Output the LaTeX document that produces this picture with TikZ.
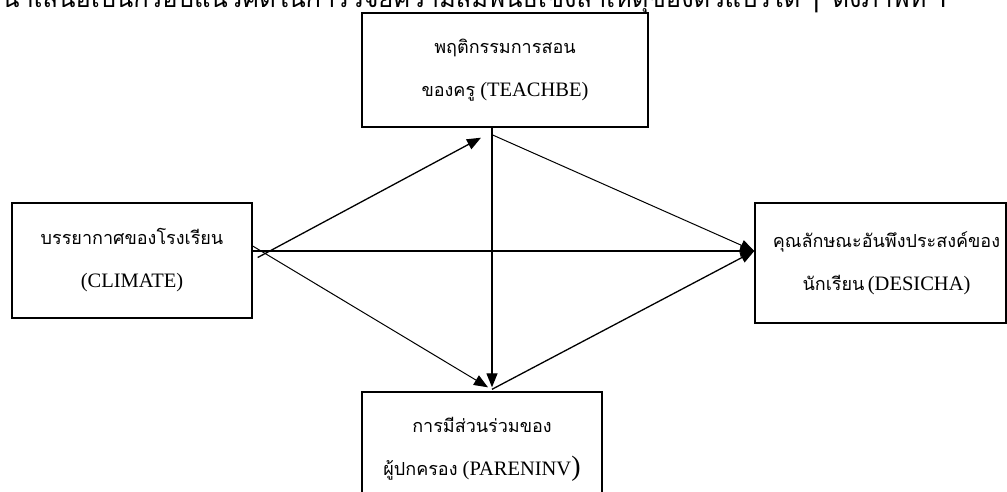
\documentclass[tikz,border=0pt]{standalone}
\usepackage{fontspec}
\setmainfont{Liberation Serif}
\newfontfamily\thaifont[Script=Thai]{Loma}
\newcommand\thtext[1]{{\thaifont\fontsize{18}{43}\selectfont #1}}
\usetikzlibrary{arrows.meta}

\begin{document}
\begin{tikzpicture}[x=1pt, y=-1pt,
    varbox/.style={draw, line width=1.4pt, inner sep=0pt, align=center,
        font=\fontsize{20.5}{43}\selectfont},
    link/.style={line width=1.3pt, -{Triangle[length=14pt, width=11pt]}},
    thinlink/.style={link, line width=1pt}]
    \useasboundingbox (0,0) rectangle (1007,491);
    % heading line, cut at the top of the page
    \node[anchor=base west, inner sep=0pt, font=\thaifont\fontsize{25.5}{26}\selectfont] (head) at (2,7)
        {นำเสนอเป็นกรอบแนวคิดในการวิจัยความสัมพันธ์เชิงสาเหตุของตัวแปรได้ \,|\, ดังภาพที่ 1};
    \node[varbox, minimum width=286pt, minimum height=114pt] (teach) at (505,70)
        {\thtext{พฤติกรรมการสอน}\\\thtext{ของครู} (TEACHBE)};
    \node[varbox, minimum width=240pt, minimum height=115pt] (climate) at (132,260.5)
        {\thtext{บรรยากาศของโรงเรียน}\\(CLIMATE)};
    \node[varbox, minimum width=251pt, minimum height=120pt] (desi) at (880.5,263)
        {\hspace*{12pt}\thtext{คุณลักษณะอันพึงประสงค์ของ}\\\hspace*{12pt}\thtext{นักเรียน}\,(DESICHA)};
    \node[varbox, minimum width=240pt, minimum height=115pt] (paren) at (482,449.5)
        {\thtext{การมีส่วนร่วมของ}\\\thtext{ผู้ปกครอง} (PARENINV{\fontsize{28}{28}\selectfont )}};
    \coordinate (mid) at ([yshift=12pt]desi.west);
    \coordinate (cl) at ([yshift=9.5pt]climate.east);
    \draw[link] ([xshift=5pt, yshift=3pt]climate.east) -- ([xshift=-24pt, yshift=-10pt]teach.south);
    \draw[link] (cl) -- (mid);
    \draw[thinlink] ([yshift=14.5pt]climate.east) -- ([xshift=6pt, yshift=4pt]paren.north);
    \draw[link] ([xshift=-13pt]teach.south) -- ([xshift=10pt, yshift=4pt]paren.north);
    \draw[thinlink] ([xshift=-13pt, yshift=-7pt]teach.south) -- (mid);
    \draw[link] ([xshift=10pt, yshift=2pt]paren.north) -- (mid);
\end{tikzpicture}
\end{document}
